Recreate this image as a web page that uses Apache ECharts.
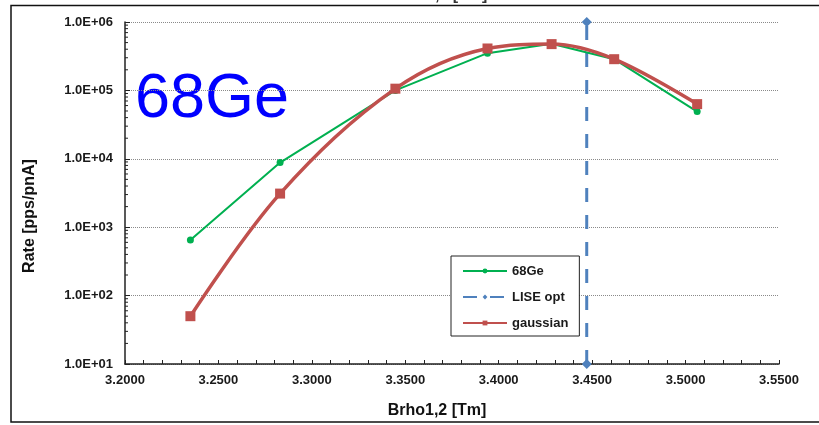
<!DOCTYPE html>
<html>
<head>
<meta charset="utf-8">
<script src="https://cdn.jsdelivr.net/npm/echarts@6/dist/echarts.min.js"></script>
<style>
html,body{margin:0;padding:0;background:#fff;}
#chart{width:819px;height:425px;}
</style>
</head>
<body>
<div id="chart"></div>
<script>
// ---- data ----
var brho = [3.2350, 3.2830, 3.3447, 3.3940, 3.4283, 3.4618, 3.5062];
var rate68Ge = [650, 8800, 100000, 350000, 480000, 286000, 49000];
var rateGaussian = [50, 3100, 106000, 410000, 475000, 286000, 63000];
var liseOptX = [3.4471, 3.4471];
var liseOptY = [10, 1000000];
var xTicks = [3.20, 3.25, 3.30, 3.35, 3.40, 3.45, 3.50, 3.55];
var yTicks = [10, 100, 1000, 10000, 100000, 1000000];
var seriesNames = ['68Ge', 'LISE opt', 'gaussian'];
var isotopeLabel = '68Ge';
var xTitle = 'Brho1,2 [Tm]';
var yTitle = 'Rate [pps/pnA]';

var FONT = '"Liberation Sans", Arial, sans-serif';

function pairs(xs, ys) {
  return xs.map(function (x, i) { return [x, ys[i]]; });
}

// minor log tick values (2..9 x 10^k)
var minorVals = [];
for (var k = 1; k < 6; k++) {
  for (var m = 2; m <= 9; m++) minorVals.push([xTicks[0], m * Math.pow(10, k)]);
}

var chart = echarts.init(document.getElementById('chart'), null, {renderer: 'canvas'});
chart.setOption({
  animation: false,
  backgroundColor: '#ffffff',
  grid: {left: 125, right: 40, top: 22, bottom: 61, containLabel: false},
  legend: {
    data: seriesNames,
    orient: 'vertical',
    left: 451,
    top: 256,
    padding: [7, 11, 5, 11],
    itemWidth: 44,
    itemHeight: 6,
    itemGap: 10,
    backgroundColor: '#ffffff',
    borderColor: '#222',
    borderWidth: 1,
    textStyle: {fontFamily: FONT, fontSize: 13, fontWeight: 'bold', color: '#1a1a1a', lineHeight: 16}
  },
  xAxis: {
    type: 'value',
    min: xTicks[0],
    max: xTicks[xTicks.length - 1],
    interval: 0.05,
    axisLine: {show: true, onZero: false, lineStyle: {color: '#222', width: 1.5}},
    axisTick: {show: true, inside: true, length: 4, lineStyle: {color: '#222'}},
    minorTick: {show: true, splitNumber: 5, length: 4, lineStyle: {color: '#222'}},
    splitLine: {show: false},
    axisLabel: {
      margin: 10,
      fontFamily: FONT, fontSize: 13, fontWeight: 'bold', color: '#1a1a1a',
      formatter: function (v) { return v.toFixed(4); }
    }
  },
  yAxis: {
    type: 'log',
    logBase: 10,
    min: yTicks[0],
    max: yTicks[yTicks.length - 1],
    axisLine: {show: true, lineStyle: {color: '#222', width: 1.5}},
    axisTick: {show: true, inside: true, length: 5, lineStyle: {color: '#222'}},
    splitLine: {show: true, lineStyle: {color: '#8a8a8a', type: 'dotted', width: 1}},
    axisLabel: {
      margin: 12,
      fontFamily: FONT, fontSize: 13, fontWeight: 'bold', color: '#1a1a1a',
      formatter: function (v) {
        var e = Math.round(Math.log(v) / Math.LN10);
        return '1.0E+' + (e < 10 ? '0' : '') + e;
      }
    }
  },
  series: [
    {
      name: seriesNames[0],
      type: 'line',
      data: pairs(brho, rate68Ge),
      symbol: 'circle',
      symbolSize: 7,
      z: 3,
      itemStyle: {color: '#00B050'},
      lineStyle: {color: '#00B050', width: 2}
    },
    {
      name: seriesNames[1],
      type: 'line',
      data: pairs(liseOptX, liseOptY),
      symbol: 'diamond',
      symbolSize: 10,
      z: 2,
      itemStyle: {color: '#4F81BD'},
      lineStyle: {color: '#4F81BD', width: 3, type: [14, 13]}
    },
    {
      name: seriesNames[2],
      type: 'line',
      data: pairs(brho, rateGaussian),
      smooth: 0.35,
      symbol: 'rect',
      symbolSize: 10,
      z: 4,
      itemStyle: {color: '#C0504D'},
      lineStyle: {color: '#C0504D', width: 3.5}
    },
    {
      name: 'minorTicks',
      type: 'custom',
      data: minorVals,
      silent: true,
      z: 5,
      renderItem: function (params, api) {
        var p = api.coord([api.value(0), api.value(1)]);
        return {
          type: 'line',
          shape: {x1: p[0], y1: p[1], x2: p[0] + 3, y2: p[1]},
          style: {stroke: '#222', lineWidth: 1}
        };
      }
    }
  ],
  graphic: [
    {
      type: 'rect',
      shape: {x: 11, y: 5.5, width: 830, height: 416.5},
      style: {fill: null, stroke: '#111', lineWidth: 1.5},
      z: 100
    },
    {
      type: 'text',
      x: 438, y: 4,
      style: {text: xTitle, fill: '#333', font: 'bold 16px ' + FONT, align: 'center', verticalAlign: 'bottom'}
    },
    {
      type: 'text',
      x: 135, y: 100,
      style: {text: isotopeLabel, fill: '#0000FF', font: '63px ' + FONT, align: 'left', verticalAlign: 'middle'}
    },
    {
      type: 'text',
      x: 437, y: 411,
      style: {text: xTitle, fill: '#111', font: 'bold 16px ' + FONT, align: 'center', verticalAlign: 'middle'}
    },
    {
      type: 'text',
      x: 30, y: 216,
      rotation: Math.PI / 2,
      style: {text: yTitle, fill: '#111', font: 'bold 16px ' + FONT, align: 'center', verticalAlign: 'middle'}
    }
  ]
});
</script>
</body>
</html>
